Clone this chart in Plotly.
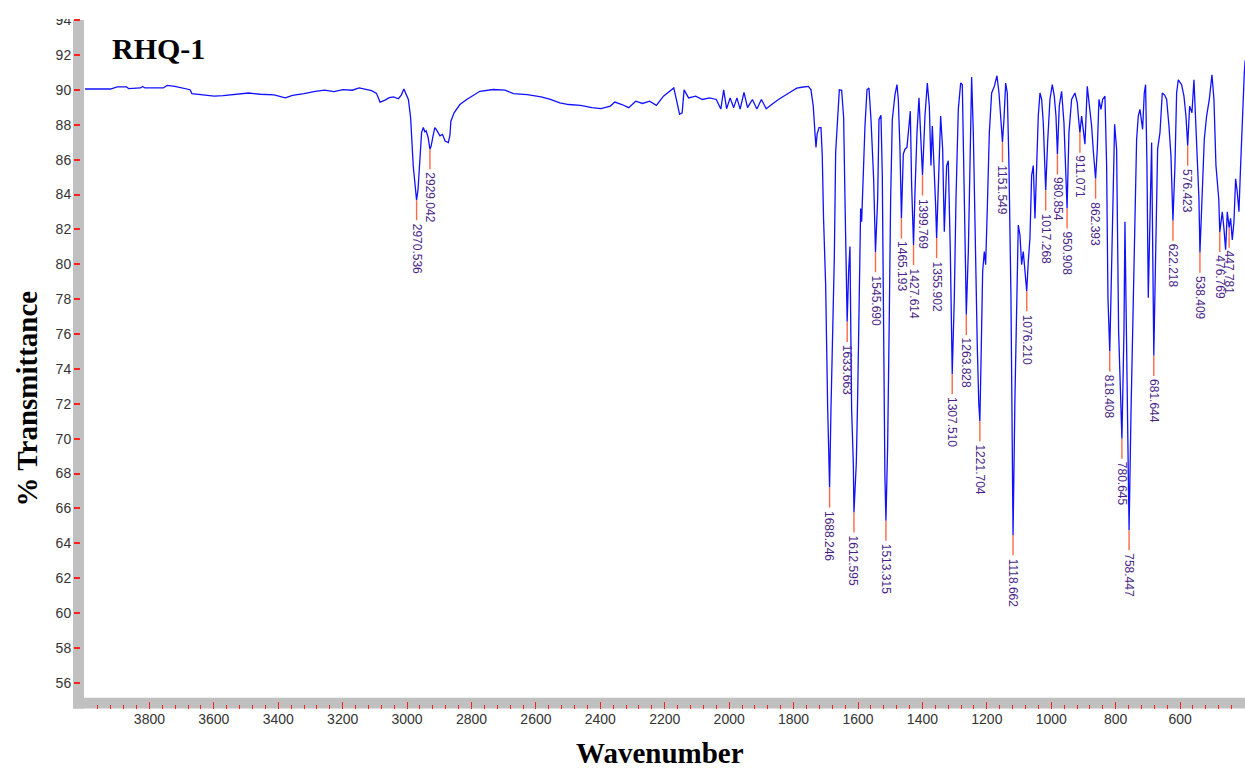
import plotly.graph_objects as go

# ---- spectrum: wavenumber (cm-1) and % transmittance, between labelled peaks ----
BASE_WN = [
    4000, 3921, 3900, 3871, 3864, 3828, 3821, 3814, 3757, 3745, 3721, 3692, 3674, 3668,
    3628, 3599, 3571, 3528, 3492, 3456, 3413, 3378, 3356, 3320, 3285, 3256, 3227, 3199,
    3170, 3149, 3127, 3110, 3095, 3084, 3070, 3055, 3042, 3027, 3018, 3010, 2996, 2989,
    2981, 2975, 2966, 2962, 2958, 2955, 2949.5, 2945, 2941, 2935, 2925, 2920, 2914, 2910,
    2902, 2898, 2890, 2882, 2872, 2867, 2864, 2854, 2836, 2815, 2774, 2732, 2696, 2670,
    2627, 2584, 2555, 2526, 2498, 2462, 2426, 2398, 2369, 2355, 2333, 2312, 2290, 2269,
    2247, 2226, 2204, 2183, 2172, 2164, 2154, 2146, 2140, 2126, 2104, 2083, 2061, 2040,
    2026, 2017, 2008, 1997, 1986, 1976, 1966, 1954, 1943, 1928, 1914, 1900, 1885, 1868,
    1847, 1811, 1790, 1775, 1754, 1746, 1739, 1734, 1730.5, 1727, 1721, 1715, 1711, 1707,
    1700.5, 1694.3, 1684, 1678.8, 1673.6, 1669.4, 1663, 1658, 1650.8, 1644.6, 1640.5,
    1637.4, 1629.1, 1625, 1619.8, 1614.6, 1605.3, 1601.1, 1596, 1591.8, 1588.7, 1583.5,
    1578.4, 1572.1, 1566, 1559.7, 1551.5, 1539, 1534.9, 1528.7, 1524.6, 1520.4, 1516.5,
    1508, 1502.8, 1498.7, 1493.5, 1485.2, 1479, 1474.9, 1469.7, 1459.4, 1454.2, 1448,
    1441.8, 1437.6, 1433.5, 1423.1, 1416.9, 1410.7, 1404.5, 1392.1, 1384.8, 1378.6,
    1373.5, 1369.3, 1363.1, 1359, 1348.6, 1343.4, 1337.2, 1332.1, 1324.8, 1319.7, 1313.4,
    1309.9, 1301, 1295.8, 1288.6, 1281.3, 1276.2, 1271, 1266.5, 1257.5, 1252.4, 1247.2,
    1242, 1235.8, 1229.6, 1225, 1218.2, 1213, 1207.9, 1203.7, 1198.6, 1192.3, 1185.1,
    1176.8, 1168.6, 1162.3, 1157.2, 1146.8, 1141.6, 1136.5, 1131.3, 1125.1, 1121, 1112.7,
    1107.5, 1102.4, 1097.2, 1092, 1086.9, 1081.7, 1071.3, 1066.2, 1061, 1055.8, 1050.6,
    1045.5, 1040.3, 1035.1, 1029.9, 1024.8, 1020.5, 1011.3, 1004.1, 996.8, 990.6, 985.4,
    975.1, 967.9, 960.6, 955.4, 945.1, 936.8, 926.5, 919.2, 915.1, 905.7, 900.6, 895.4,
    888.2, 881.9, 874.7, 869.5, 857.1, 851.9, 845.7, 840.5, 833.3, 828.1, 824, 814.7,
    809.5, 803.3, 797.1, 790.9, 784.7, 774.3, 771.2, 768.1, 763, 752.5, 745.3, 740.2,
    735, 729.8, 724.6, 716.4, 711.2, 707.1, 702.9, 698.8, 693.6, 688.4, 684.5, 676.5,
    669.8, 662.5, 655.3, 648, 641.8, 634.6, 628.4, 616, 610.8, 605.6, 595.3, 588, 581.8,
    570.4, 563.2, 557, 548.7, 541.5, 531.1, 524.9, 517.7, 509.4, 501.1, 494.9, 488.7,
    483.5, 480, 469, 463.9, 458.7, 453.5, 443.2, 438, 432.8, 427.6, 422.5, 417.3, 412.1,
    406.9, 400.7, 398,
]
BASE_T = [
    90.05, 90.05, 90.17, 90.17, 90.07, 90.11, 90.19, 90.11, 90.11, 90.26, 90.20, 90.09, 90.01, 89.79,
    89.71, 89.64, 89.67, 89.75, 89.82, 89.75, 89.71, 89.54, 89.69, 89.79, 89.92, 89.98, 89.90, 90.01,
    89.98, 90.11, 90.01, 89.96, 89.80, 89.30, 89.40, 89.55, 89.60, 89.49, 89.70, 90.05, 89.45, 88.40,
    85.66, 84.30, 84.30, 85.66, 87.00, 87.55, 87.84, 87.60, 87.65, 87.30, 86.80, 87.30, 87.84, 87.75,
    87.45, 87.36, 87.45, 87.07, 86.98, 87.40, 88.20, 88.68, 89.16, 89.45, 89.92, 90.02, 89.98, 89.79,
    89.73, 89.60, 89.45, 89.26, 89.16, 89.11, 88.98, 88.92, 89.07, 89.30, 89.16, 88.98, 89.35, 89.22,
    89.35, 89.11, 89.64, 89.92, 90.11, 89.45, 88.60, 88.68, 90.00, 89.54, 89.64, 89.45, 89.54, 89.45,
    88.90, 90.00, 88.92, 89.54, 88.98, 89.54, 88.90, 89.86, 88.98, 89.45, 88.90, 89.45, 88.92, 89.16,
    89.45, 89.86, 90.10, 90.15, 90.20, 90.00, 89.07, 87.65, 86.70, 87.46, 87.84, 87.84, 86.23, 82.63,
    78.84, 71.83, 71.64, 75.24, 80.36, 86.42, 88.40, 90.00, 89.98, 88.40, 83.76,
    81.11, 79.60, 81.02, 71.64, 68.61, 68.60, 72.40, 79.20, 83.20, 82.44, 85.66,
    87.93, 90.01, 90.11, 88.30, 84.90, 83.76, 88.30, 88.54, 85.09, 74.30, 67.85,
    69.56, 77.13, 83.76, 88.30, 89.73, 90.30, 89.45, 86.60, 86.32, 86.60, 86.70,
    88.30, 88.78, 84.52, 84.14, 87.55, 89.54, 86.80, 88.50, 90.39, 89.07,
    85.66, 87.93, 85.47, 83.39, 85.66, 88.50, 86.60, 81.87, 85.66, 85.94, 80.73,
    76.19, 78.08, 83.76, 88.88, 90.39, 90.30, 85.66, 80.17, 80.73, 85.66, 90.73,
    87.55, 79.98, 75.24, 72.00, 74.30, 79.60, 80.73, 79.98, 83.20, 87.55, 89.82,
    90.20, 90.81, 89.82, 88.50, 88.31, 90.39, 89.82, 85.66, 78.08, 71.45, 72.40,
    78.08, 82.25, 81.68, 79.98, 80.73, 79.60, 80.17, 81.49, 85.09, 85.66, 82.63,
    86.04, 88.50, 89.82, 89.45, 88.12, 85.50, 86.98, 89.45, 90.30, 89.64, 88.50,
    89.07, 89.92, 88.12, 85.66, 87.55, 89.45, 89.82, 89.26, 88.31, 88.50, 87.55, 86.89,
    90.20, 89.07, 87.93, 86.51, 86.60, 89.45, 88.88, 89.45, 89.64, 85.66, 78.08, 78.08,
    83.76, 88.03, 86.60, 76.19, 72.40, 76.19, 82.44, 78.08, 69.56, 71.45, 78.08, 83.76,
    87.17, 88.50, 88.88, 87.74, 89.82, 90.30, 85.66, 78.08, 81.87, 86.98, 79.98, 79.98,
    86.60, 87.55, 89.82, 89.70, 89.45, 87.93, 86.23, 85.66, 89.82, 90.58, 90.30, 89.64, 88.50,
    89.07, 88.69, 90.58, 86.60, 83.76, 84.71, 87.17, 88.50, 89.45, 90.87, 89.45, 85.66,
    84.14, 83.76, 83.01, 82.06, 80.83, 83.01, 82.63, 81.40, 82.44, 84.90, 84.14, 83.01, 85.66,
    88.50, 90.96, 91.70,
]

# ---- picked peaks: position and transmittance at the band minimum ----
PEAK_WN = [
    2970.536, 2929.042, 1688.246, 1633.663, 1612.595, 1545.690, 1513.315, 1465.193,
    1427.614, 1399.769, 1355.902, 1307.510, 1263.828, 1221.704, 1151.549, 1118.662,
    1076.210, 1017.268, 980.854, 950.908, 911.071, 862.393, 818.408, 780.645, 758.447,
    681.644, 622.218, 576.423, 538.409, 476.769, 447.781,
]
PEAK_T = [
    83.67, 86.60, 67.20, 76.70, 65.77, 80.70, 65.30, 82.63,
    81.10, 85.10, 81.50, 73.70, 77.10, 71.00, 87.00, 64.47,
    78.45, 84.24, 86.30, 83.20, 87.55, 84.90, 75.00, 70.00, 64.75,
    74.75, 82.50, 86.80, 80.66, 81.85, 82.10,
]

X_TICKS = list(range(3800, 399, -200))
Y_TICKS = list(range(56, 95, 2))

# ---- geometry (pixels) ----
W, H = 1245, 770
PLOT_L, PLOT_R = 85, 1245
PLOT_T, PLOT_B = 12, 697
BAND = 11                      # thickness of the grey axis bands
LEADER = 1.15                  # length of the peak marker, in %T units

X_RANGE = [4000, 398.5]
Y_RANGE = [55.15, 94.07]

BLUE = "#1010ff"
MARK = "#ff6a45"
LABEL = "#4a1f8a"
SERIF = "Liberation Serif, Times New Roman, serif"
SANS = "Liberation Sans Narrow, Liberation Sans, Arial, sans-serif"


def px(x):
    return x / W


def py(y):
    return 1 - y / H


# merge the band minima into the spectrum so the curve passes through them
pairs = sorted(zip(BASE_WN + PEAK_WN, BASE_T + PEAK_T), key=lambda p: -p[0])
spec_wn = [p[0] for p in pairs]
spec_t = [p[1] for p in pairs]

fig = go.Figure()
fig.add_trace(go.Scatter(
    x=spec_wn, y=spec_t, mode="lines",
    line=dict(color=BLUE, width=1.3), hoverinfo="skip", showlegend=False,
))

# red peak markers hanging below each band minimum
mx, my = [], []
for w, t in zip(PEAK_WN, PEAK_T):
    mx += [w, w, None]
    my += [t, t - LEADER, None]
fig.add_trace(go.Scatter(
    x=mx, y=my, mode="lines", line=dict(color=MARK, width=1.4),
    hoverinfo="skip", showlegend=False,
))

annotations = []
for w, t in zip(PEAK_WN, PEAK_T):
    annotations.append(dict(
        x=w, y=t - LEADER, xref="x", yref="y", text=f"{w:.3f}",
        showarrow=False, textangle=90, xanchor="center", yanchor="top",
        yshift=-2, borderpad=0,
        font=dict(family="Liberation Sans, Arial, sans-serif", size=12, color=LABEL),
    ))

annotations += [
    dict(x=px(158), y=py(42), xref="paper", yref="paper", text="<b>RHQ-1</b>",
         showarrow=False, xanchor="center", yanchor="middle",
         font=dict(family=SERIF, size=30, color="#000")),
    dict(x=px(27), y=py(395), xref="paper", yref="paper", text="<b>% Transmittance</b>",
         showarrow=False, textangle=-90, xanchor="center", yanchor="middle",
         font=dict(family=SERIF, size=29, color="#000")),
    dict(x=px(660), y=py(753), xref="paper", yref="paper", text="<b>Wavenumber</b>",
         showarrow=False, xanchor="center", yanchor="middle",
         font=dict(family=SERIF, size=29, color="#000")),
]

shapes = [
    # grey band along the left edge
    dict(type="rect", xref="paper", yref="paper", layer="below",
         x0=px(PLOT_L - BAND - 1), x1=px(PLOT_L - 1), y0=py(PLOT_B + BAND), y1=py(PLOT_T + 1),
         fillcolor="#c0c0c0", line=dict(width=0)),
    # grey band along the bottom edge
    dict(type="rect", xref="paper", yref="paper", layer="below",
         x0=px(PLOT_L - BAND - 1), x1=1, y0=py(PLOT_B + BAND), y1=py(PLOT_B),
         fillcolor="#c0c0c0", line=dict(width=0)),
    # clip strip at the very top
    dict(type="rect", xref="paper", yref="paper", layer="above",
         x0=0, x1=px(PLOT_L), y0=py(PLOT_T), y1=1,
         fillcolor="white", line=dict(width=0)),
]

fig.update_layout(
    width=W, height=H, autosize=False,
    margin=dict(l=0, r=0, t=0, b=0, pad=0),
    paper_bgcolor="white", plot_bgcolor="white",
    showlegend=False,
    annotations=annotations,
    shapes=shapes,
    xaxis=dict(
        domain=[px(PLOT_L), 1], range=X_RANGE, anchor="free", position=py(PLOT_B + BAND),
        tickmode="array", tickvals=X_TICKS, ticktext=[str(v) for v in X_TICKS],
        ticks="inside", ticklen=7, tickwidth=1.2, tickcolor="#ff2020",
        minor=dict(dtick=40, tick0=0, ticks="inside", ticklen=4, tickwidth=1.2,
                   tickcolor="#ff2020", showgrid=False),
        showgrid=False, zeroline=False, showline=False,
        tickfont=dict(family=SANS, size=14, color="#333"),
    ),
    yaxis=dict(
        domain=[py(PLOT_B), py(PLOT_T)], range=Y_RANGE, anchor="free", position=px(80),
        tickmode="array", tickvals=Y_TICKS, ticktext=[str(v) for v in Y_TICKS],
        ticks="outside", ticklen=6, tickwidth=1.5, tickcolor="#ff2020",
        showgrid=False, zeroline=False, showline=False,
        tickfont=dict(family=SANS, size=14, color="#333"),
    ),
)

fig.write_html("out.html")
